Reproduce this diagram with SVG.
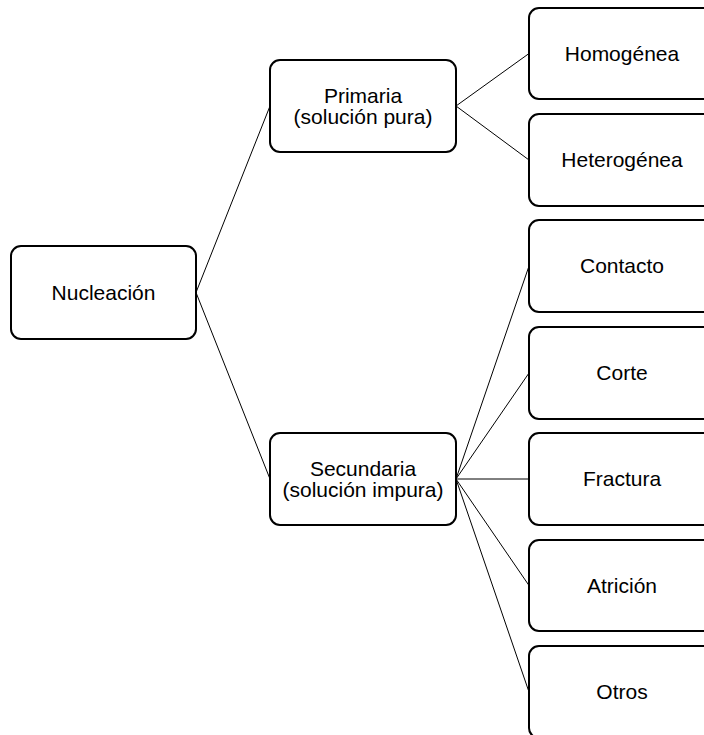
<svg xmlns="http://www.w3.org/2000/svg" width="704" height="735" viewBox="0 0 704 735">
  <style>
    .box { fill: #ffffff; stroke: #000000; stroke-width: 2; }
    .link { fill: none; stroke: #000000; stroke-width: 1; }
    .lbl { font-family: "Liberation Sans", Arial, sans-serif; font-size: 21px; fill: #000000; text-anchor: middle; }
  </style>
  <rect width="704" height="735" fill="#ffffff"/>
  <g id="connectors">
    <line class="link" x1="196" y1="292.5" x2="270" y2="106"/>
    <line class="link" x1="196" y1="292.5" x2="270" y2="479"/>
    <line class="link" x1="456" y1="106" x2="529" y2="53.5"/>
    <line class="link" x1="456" y1="106" x2="529" y2="160"/>
    <line class="link" x1="456" y1="479" x2="529" y2="266"/>
    <line class="link" x1="456" y1="479" x2="529" y2="373"/>
    <line class="link" x1="456" y1="479" x2="529" y2="479"/>
    <line class="link" x1="456" y1="479" x2="529" y2="585.5"/>
    <line class="link" x1="456" y1="479" x2="529" y2="692"/>
  </g>
  <g id="nucleacion">
    <rect class="box" x="11" y="246" width="185" height="93" rx="10"/>
    <text class="lbl" x="103.5" y="300">Nucleación</text>
  </g>
  <g id="primaria">
    <rect class="box" x="270" y="60" width="186" height="92" rx="10"/>
    <text class="lbl" x="363" y="103">Primaria</text>
    <text class="lbl" x="363" y="124">(solución pura)</text>
  </g>
  <g id="secundaria">
    <rect class="box" x="270" y="433" width="186" height="92" rx="10"/>
    <text class="lbl" x="363" y="476">Secundaria</text>
    <text class="lbl" x="363" y="497">(solución impura)</text>
  </g>
  <g id="homogenea">
    <rect class="box" x="529" y="8" width="186" height="91" rx="10"/>
    <text class="lbl" x="622" y="61">Homogénea</text>
  </g>
  <g id="heterogenea">
    <rect class="box" x="529" y="114" width="186" height="92" rx="10"/>
    <text class="lbl" x="622" y="167">Heterogénea</text>
  </g>
  <g id="contacto">
    <rect class="box" x="529" y="220" width="186" height="92" rx="10"/>
    <text class="lbl" x="622" y="273">Contacto</text>
  </g>
  <g id="corte">
    <rect class="box" x="529" y="327" width="186" height="92" rx="10"/>
    <text class="lbl" x="622" y="380">Corte</text>
  </g>
  <g id="fractura">
    <rect class="box" x="529" y="433" width="186" height="92" rx="10"/>
    <text class="lbl" x="622" y="486">Fractura</text>
  </g>
  <g id="atricion">
    <rect class="box" x="529" y="540" width="186" height="91" rx="10"/>
    <text class="lbl" x="622" y="593">Atrición</text>
  </g>
  <g id="otros">
    <rect class="box" x="529" y="646" width="186" height="92" rx="10"/>
    <text class="lbl" x="622" y="699">Otros</text>
  </g>
</svg>
